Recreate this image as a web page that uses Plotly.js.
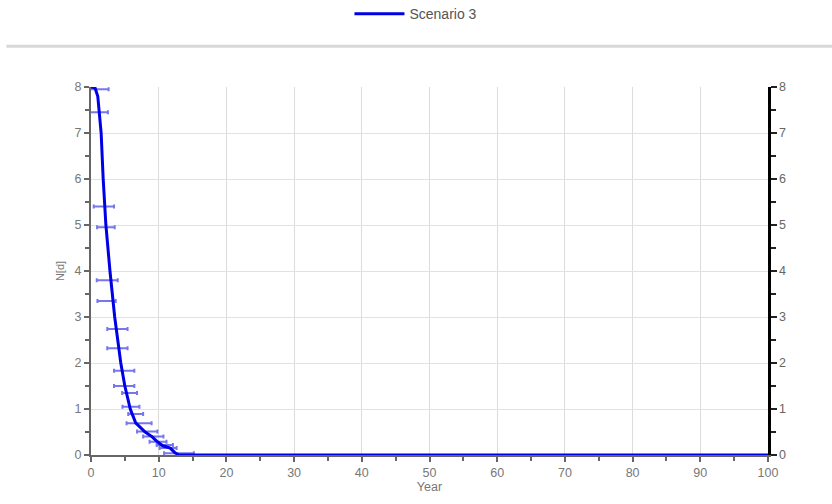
<!DOCTYPE html>
<html>
<head>
<meta charset="utf-8">
<script src="https://cdn.plot.ly/plotly-3.0.1.min.js"></script>
<style>
  html, body { margin: 0; padding: 0; background: #fff; }
  #chart { width: 832px; height: 504px; }
</style>
</head>
<body>
<div id="chart"></div>
<script>
// Mean curve of Scenario 3
const years = [0, 0.6, 1.0, 1.2, 1.5, 1.8, 2.2, 2.8, 3.5, 4.4, 5.0, 5.8, 6.6, 8.0, 9.0, 9.7, 10.6, 11.7, 12.4, 13.0, 100];
const values = [8, 7.98, 7.8, 7.5, 7.0, 6.0, 5.0, 4.0, 3.0, 2.0, 1.5, 1.0, 0.7, 0.5, 0.4, 0.3, 0.2, 0.15, 0.05, 0, 0];

// Spread of the individual runs (horizontal error bars)
const spreadYears = [1.2, 0.8, 1.9, 2.2, 2.4, 2.3, 3.9, 3.9, 4.9, 4.9, 5.7, 5.9, 6.6, 7.1, 8.3, 9.2, 9.9, 10.9, 11.4, 13.0];
const spreadValues = [7.95, 7.45, 5.4, 4.95, 3.8, 3.35, 2.74, 2.32, 1.83, 1.5, 1.35, 1.05, 0.89, 0.69, 0.51, 0.4, 0.29, 0.22, 0.15, 0.04];
const spreadHalf = [1.4, 1.7, 1.5, 1.3, 1.55, 1.35, 1.5, 1.5, 1.5, 1.5, 1.1, 1.25, 1.1, 1.85, 1.5, 1.5, 1.25, 1.2, 1.25, 2.2];

const xTicks = [0, 10, 20, 30, 40, 50, 60, 70, 80, 90, 100];
const yTicks = [0, 1, 2, 3, 4, 5, 6, 7, 8];

const tickFont = { family: 'Liberation Sans, Arial, sans-serif', size: 12.5, color: '#777' };

const traces = [
  {
    x: spreadYears, y: spreadValues, type: 'scatter', mode: 'markers',
    marker: { size: 1, color: 'rgba(0,0,0,0)' },
    error_x: { type: 'data', array: spreadHalf, visible: true,
               color: 'rgba(60,60,230,0.7)', thickness: 2, width: 2 },
    showlegend: false, hoverinfo: 'skip'
  },
  {
    x: years, y: values, type: 'scatter', mode: 'lines',
    name: 'Scenario 3',
    line: { color: '#0000e6', width: 3 }
  },
  {
    x: [0, 100], y: [0, 8], yaxis: 'y2', type: 'scatter', mode: 'markers',
    marker: { size: 1, color: 'rgba(0,0,0,0)' }, showlegend: false, hoverinfo: 'skip'
  }
];

const layout = {
  width: 832, height: 504,
  margin: { l: 91, r: 64, t: 87, b: 49, autoexpand: false },
  paper_bgcolor: '#fff', plot_bgcolor: '#fff',
  showlegend: true,
  legend: { orientation: 'h', x: 0.48, xanchor: 'center', xref: 'paper',
            yref: 'container', y: 0.972, yanchor: 'middle', itemwidth: 50,
            font: { family: 'Liberation Sans, Arial, sans-serif', size: 14, color: '#555' } },
  xaxis: {
    range: [0, 100], tickvals: xTicks, ticktext: xTicks.map(String),
    showgrid: true, gridcolor: '#dcdcdc', gridwidth: 1,
    showline: true, linecolor: '#666', linewidth: 2,
    ticks: 'outside', ticklen: 5, tickwidth: 2, tickcolor: '#666',
    minor: { dtick: 5, tick0: 0, ticks: 'outside', ticklen: 4, tickwidth: 2, tickcolor: '#666', showgrid: false },
    zeroline: false, tickfont: tickFont,
    title: { text: 'Year', standoff: 0, font: { family: 'Liberation Sans, Arial, sans-serif', size: 12.5, color: '#777' } }
  },
  yaxis: {
    range: [0, 8], tickvals: yTicks, ticktext: yTicks.map(String),
    showgrid: true, gridcolor: '#e2e2e2', gridwidth: 1,
    showline: true, linecolor: '#666', linewidth: 2,
    ticks: 'outside', ticklen: 5, tickwidth: 2, tickcolor: '#666',
    minor: { dtick: 0.5, tick0: 0, ticks: 'outside', ticklen: 4, tickwidth: 2, tickcolor: '#666', showgrid: false },
    zeroline: false, tickfont: tickFont,
    title: { text: 'N[d]', standoff: 8, font: { family: 'Liberation Sans, Arial, sans-serif', size: 11, color: '#777' } }
  },
  yaxis2: {
    overlaying: 'y', side: 'right', range: [0, 8], tickvals: yTicks, ticktext: yTicks.map(String),
    showgrid: false, showline: true, linecolor: '#000', linewidth: 2.5,
    ticks: 'outside', ticklen: 6, tickwidth: 2, tickcolor: '#222',
    minor: { dtick: 0.5, tick0: 0, ticks: 'outside', ticklen: 5, tickwidth: 2, tickcolor: '#222' },
    zeroline: false, tickfont: { family: 'Liberation Sans, Arial, sans-serif', size: 12.5, color: '#666' }
  },
  shapes: [
    { type: 'line', xref: 'paper', yref: 'paper', x0: -0.125, x1: 1.096, y0: 1.111, y1: 1.111,
      line: { color: '#d8d8d8', width: 3 } }
  ]
};

Plotly.newPlot('chart', traces, layout, { displayModeBar: false, staticPlot: true });
</script>
</body>
</html>
